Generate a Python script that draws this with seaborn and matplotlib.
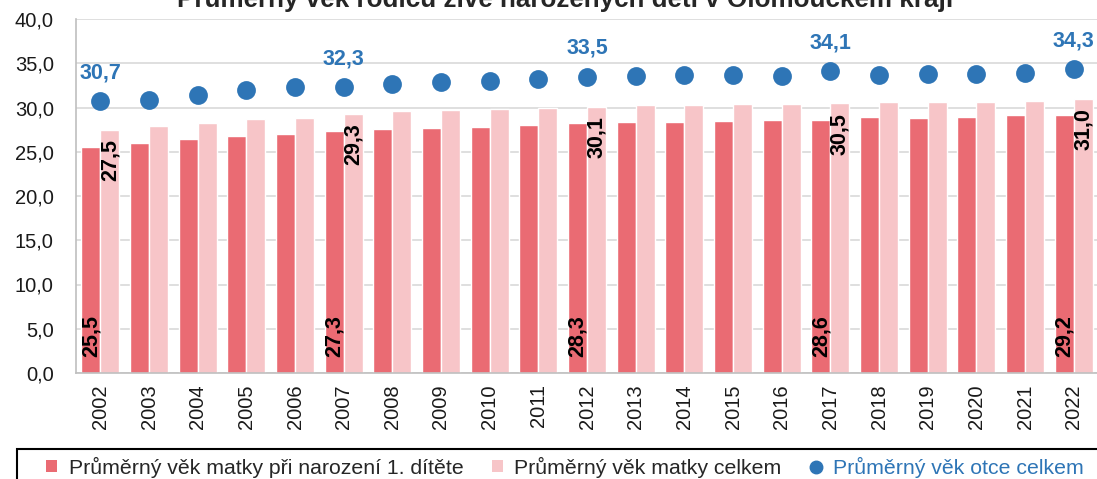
import pandas as pd
import matplotlib.pyplot as plt
import seaborn as sns
from matplotlib.patches import Patch, Rectangle
from matplotlib.lines import Line2D

# data
years = ['2002', '2003', '2004', '2005', '2006', '2007', '2008', '2009', '2010', '2011', '2012',
         '2013', '2014', '2015', '2016', '2017', '2018', '2019', '2020', '2021', '2022']
mother_first = [25.5, 26.0, 26.4, 26.8, 27.0, 27.3, 27.6, 27.7, 27.8, 28.0, 28.3,
                28.4, 28.4, 28.5, 28.6, 28.6, 28.9, 28.8, 28.9, 29.1, 29.2]
mother_all = [27.5, 27.9, 28.2, 28.7, 28.8, 29.3, 29.6, 29.7, 29.8, 29.9, 30.1,
              30.3, 30.3, 30.4, 30.4, 30.5, 30.6, 30.6, 30.6, 30.7, 31.0]
father_all = [30.7, 30.9, 31.4, 32.0, 32.3, 32.3, 32.6, 32.9, 33.0, 33.2, 33.5,
              33.6, 33.7, 33.7, 33.6, 34.1, 33.7, 33.8, 33.8, 33.9, 34.3]
labelled_years = ['2002', '2007', '2012', '2017', '2022']

series_names = ['Průměrný věk matky při narození 1. dítěte',
                'Průměrný věk matky celkem',
                'Průměrný věk otce celkem']
title = 'Průměrný věk rodičů živě narozených dětí v Olomouckém kraji'

red = '#EA6B73'
pink = '#F7C5C8'
blue = '#2E75B6'

sns.set_theme(style='white')
plt.rcParams['font.family'] = ['Liberation Sans', 'DejaVu Sans']

long = pd.DataFrame({
    'rok': years * 2,
    'vek': mother_first + mother_all,
    'rada': [series_names[0]] * len(years) + [series_names[1]] * len(years),
})

fig = plt.figure(figsize=(10.97, 4.79), dpi=100)
ax = fig.add_axes([76 / 1097, 1 - 373 / 479, 1022 / 1097, 354 / 479])

sns.barplot(data=long, x='rok', y='vek', hue='rada', order=years,
            palette=[red, pink], saturation=1, width=0.78, ax=ax, legend=False)
sns.pointplot(x=years, y=father_all, order=years, color=blue, linestyle='none',
              markers='o', markersize=11.5, ax=ax)

ax.set_ylim(0, 40)
ax.set_xlim(-0.5, len(years) - 0.5)
ax.set_yticks(range(0, 45, 5))
ax.set_yticklabels([f'{v:.1f}'.replace('.', ',') for v in range(0, 45, 5)])
ax.set_xlabel('')
ax.set_ylabel('')
ax.grid(axis='y', color='#D9D9D9', lw=1.2)
ax.set_axisbelow(True)
for s in ['top', 'right']:
    ax.spines[s].set_visible(False)
for s in ['left', 'bottom']:
    ax.spines[s].set_color('#BFBFBF')
    ax.spines[s].set_linewidth(1.2)
ax.tick_params(axis='x', labelrotation=90, labelsize=14.5, pad=8, length=0, colors='#1a1a1a')
ax.tick_params(axis='y', labelsize=14.5, pad=16, length=0, colors='#1a1a1a')

def fmt(v):
    return f'{v:.1f}'.replace('.', ',')

for yr in labelled_years:
    i = years.index(yr)
    ax.text(i - 0.195, 1.8, fmt(mother_first[i]), rotation=90, ha='center', va='bottom',
            fontsize=15.5, fontweight='bold', color='black')
    ax.text(i + 0.195, mother_all[i] - 1.1, fmt(mother_all[i]), rotation=90, ha='center', va='top',
            fontsize=15.5, fontweight='bold', color='black')
    ax.text(i, father_all[i] + 3.2, fmt(father_all[i]), ha='center', va='center',
            fontsize=15.5, fontweight='bold', color=blue)

fig.text(0.515, 1 - 7 / 479, title, ha='center', va='baseline', fontsize=18.7, fontweight='bold')

handles = [Patch(facecolor=red, edgecolor='none'),
           Patch(facecolor=pink, edgecolor='none'),
           Line2D([], [], marker='o', color=blue, linestyle='none', markersize=9)]
leg = fig.legend(handles, series_names, loc='center left', bbox_to_anchor=(46 / 1097, 1 - 467 / 479),
                 ncol=3, frameon=False, fontsize=15.3, handlelength=0.5, handleheight=0.5,
                 handletextpad=0.56, columnspacing=1.35, borderpad=0, borderaxespad=0)
leg.get_texts()[2].set_color(blue)
fig.add_artist(Rectangle((16.5 / 1097, -0.1), 1.2, 0.1 + 30 / 479, transform=fig.transFigure,
                         fill=False, edgecolor='black', lw=1.5))

fig.savefig('out.png', dpi=100)
